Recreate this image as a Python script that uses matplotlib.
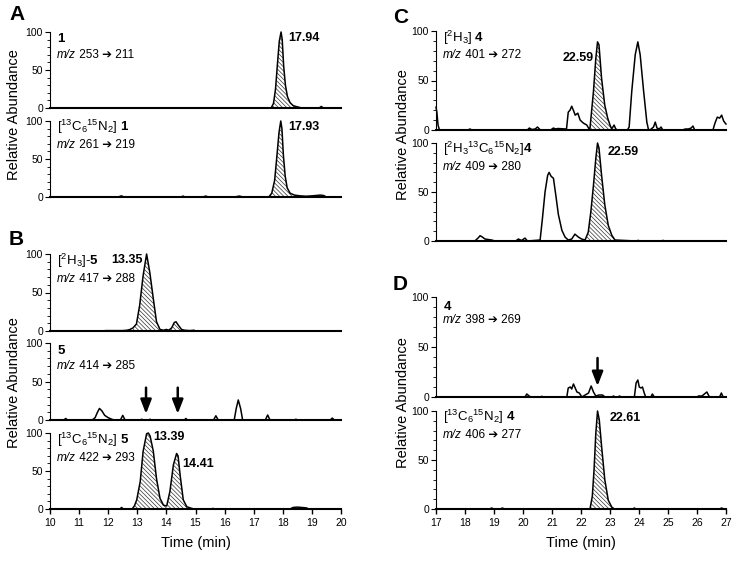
import numpy as np
import matplotlib
matplotlib.use('Agg')
import matplotlib.pyplot as plt
from matplotlib.ticker import MultipleLocator

plt.rcParams['font.family'] = ['Liberation Sans', 'DejaVu Sans']
plt.rcParams['mathtext.fontset'] = 'custom'
plt.rcParams['mathtext.rm'] = 'Liberation Sans'
plt.rcParams['mathtext.it'] = 'Liberation Sans:italic'
plt.rcParams['mathtext.bf'] = 'Liberation Sans:bold'
plt.rcParams['hatch.linewidth'] = 0.5

# ---- data (time in min, relative abundance) ----
# A: compound 1
a_top_t = [10.0, 17.60, 17.68, 17.75, 17.82, 17.88, 17.94, 17.98, 18.03, 18.09, 18.16, 18.25, 18.36,
           18.50, 18.65, 19.25, 19.32, 19.40, 20.0]
a_top_y = [0, 0, 6, 25, 60, 88, 100, 90, 55, 30, 15, 7, 3, 1.5, 0, 0, 2, 0, 0]
a_bot_t = [10.0, 12.35, 12.45, 12.55, 14.50, 14.57, 14.64, 15.25, 15.35, 15.45, 16.35, 16.50, 16.65,
           17.52, 17.62, 17.72, 17.80, 17.87, 17.93, 17.97, 18.02, 18.08, 18.15, 18.25, 18.40, 18.60,
           18.80, 19.00, 19.15, 19.28, 19.40, 19.50, 20.0]
a_bot_y = [0, 0, 1.5, 0, 0, 1.2, 0, 0, 1.2, 0, 0, 1.2, 0, 0, 5, 22, 55, 85, 100, 90, 55, 28, 12, 5,
           2.5, 1.5, 1, 1.5, 2, 2.5, 2, 0, 0]

# B: compound 5
b_top_t = [10.0, 11.85, 11.90, 12.50, 12.65, 12.75, 12.85, 12.97, 13.08, 13.20, 13.32, 13.43, 13.55,
           13.66, 13.78, 13.90, 14.00, 14.08, 14.18, 14.27, 14.33, 14.42, 14.52, 14.62, 14.80, 14.95,
           15.0, 20.0]
b_top_y = [0, 0, 0.5, 0.5, 1, 2, 4, 9, 33, 72, 100, 76, 42, 12, 2, 1, 2, 1, 4, 11, 12, 7, 2, 1, 0.5,
           1, 0, 0]
b_mid_t = [10.0, 10.48, 10.54, 10.60, 11.45, 11.55, 11.63, 11.70, 11.78, 11.88, 12.00, 12.12, 12.20,
           12.42, 12.50, 12.58, 13.10, 13.15, 13.20, 13.40, 13.44, 13.48, 14.62, 14.67, 14.72, 15.62,
           15.70, 15.78, 16.33, 16.40, 16.47, 16.55, 16.62, 17.40, 17.48, 17.56, 18.40, 18.45, 18.50,
           19.63, 19.70, 19.77, 20.0]
b_mid_y = [0, 0, 2, 0, 0, 3, 10, 15, 12, 6, 3, 1, 0, 0, 6, 0, 0, 1, 0, 0, 1, 0, 0, 2, 0, 0, 5.5, 0,
           0, 15, 26, 15, 0, 0, 6.5, 0, 0, 1, 0, 0, 2.5, 0, 0]
b_bot_t = [10.0, 12.40, 12.46, 12.52, 12.82, 12.90, 12.98, 13.10, 13.20, 13.32, 13.38, 13.44, 13.55,
           13.66, 13.78, 13.90, 14.01, 14.12, 14.24, 14.35, 14.40, 14.47, 14.58, 14.70, 14.85, 14.95,
           15.55, 15.60, 15.65, 18.25, 18.35, 18.50, 18.65, 18.80, 18.90, 20.0]
b_bot_y = [0, 0, 2, 0, 0, 4, 12, 36, 76, 99, 100, 96, 76, 40, 14, 5, 4, 23, 58, 73, 70, 45, 12, 3, 1,
           0, 0, 0.8, 0, 0, 2, 2.5, 2, 1.5, 0, 0]
b_arrows = [13.30, 14.39]

# C: compound 4 (deuterated standards)
c_top_t = [17.0, 17.03, 17.07, 17.12, 18.10, 18.17, 18.24, 20.15, 20.22, 20.30, 20.42, 20.50, 20.58,
           20.65, 20.95, 21.05, 21.12, 21.20, 21.50, 21.56, 21.62, 21.68, 21.75, 21.80, 21.89, 21.97,
           22.08, 22.20, 22.28, 22.31, 22.43, 22.51, 22.57, 22.62, 22.71, 22.82, 22.92, 23.00, 23.06,
           23.14, 23.20, 23.26, 23.60, 23.66, 23.75, 23.87, 23.96, 24.04, 24.16, 24.27, 24.33, 24.40,
           24.50, 24.56, 24.62, 24.70, 24.76, 24.82, 25.50, 25.60, 25.70, 25.80, 25.86, 25.92, 26.55,
           26.62, 26.70, 26.78, 26.85, 26.92, 27.0]
c_top_y = [23, 18, 5, 0, 0, 1, 0, 0, 2, 0.5, 1, 3, 0.5, 0, 0, 2, 1, 1.5, 1, 18, 20, 24, 19, 15, 17,
           10, 7, 5, 1, 2, 39, 72, 89, 86, 52, 25, 12, 5, 1, 5, 1, 0, 0, 3, 39, 76, 89, 76, 39, 8, 0,
           0.5, 3, 8, 2, 1, 3, 0, 0, 1, 1, 2, 4, 0, 0, 7, 13, 12, 15, 9, 6]
c_bot_t = [17.0, 18.34, 18.45, 18.52, 18.60, 18.69, 18.92, 19.03, 19.75, 19.84, 19.95, 20.07, 20.15,
           20.59, 20.67, 20.76, 20.85, 20.90, 20.97, 21.05, 21.13, 21.22, 21.34, 21.45, 21.56, 21.68,
           21.79, 21.91, 22.02, 22.14, 22.25, 22.34, 22.43, 22.51, 22.57, 22.62, 22.71, 22.82, 22.94,
           23.06, 23.17, 23.90, 23.97, 24.04, 24.76, 24.83, 24.90, 27.0]
c_bot_y = [0, 0, 3, 5.4, 4, 2, 1, 0, 0, 2, 0.5, 3, 0, 1, 23, 50, 67, 70, 66, 64, 47, 27, 11, 4, 1, 2,
           7, 4, 2, 1, 9, 30, 57, 84, 100, 95, 67, 37, 16, 6, 1, 0, 0.6, 0, 0, 0.6, 0, 0]

# D: compound 4 (native) and its 13C/15N standard
d_top_t = [17.0, 20.07, 20.13, 20.21, 20.27, 20.60, 20.65, 20.70, 21.51, 21.56, 21.63, 21.68, 21.74,
           21.80, 21.86, 21.94, 22.03, 22.26, 22.35, 22.43, 22.51, 22.62, 22.74, 22.83, 23.07, 23.12,
           23.17, 23.28, 23.33, 23.38, 23.84, 23.90, 23.96, 24.01, 24.07, 24.12, 24.18, 24.23, 24.41,
           24.46, 24.53, 26.00, 26.05, 26.17, 26.34, 26.43, 26.78, 26.84, 26.90, 27.0]
d_top_y = [0, 0, 3, 1, 0, 0, 0.7, 0, 0, 9, 10, 8, 13, 9, 5, 4, 0, 4, 11, 5, 1, 2, 2, 0, 0, 1, 0, 0,
           1, 0, 0, 14, 17, 10, 9, 10, 4, 0, 0, 3, 0, 0, 1, 1, 5, 0, 0, 4, 0, 0]
d_bot_t = [17.0, 18.85, 18.92, 18.99, 19.22, 19.29, 19.36, 22.31, 22.39, 22.45, 22.51, 22.57, 22.63,
           22.71, 22.82, 22.94, 23.06, 23.15, 23.78, 23.84, 23.90, 26.78, 26.85, 26.92, 27.0]
d_bot_y = [0, 0, 1, 0, 0, 1, 0, 0, 13, 40, 77, 100, 91, 64, 30, 9, 2, 0, 0, 1, 0, 0, 1, 0, 0]
d_arrows = [22.57]

W, H = 741, 561
fig = plt.figure(figsize=(W / 100, H / 100), dpi=100)


def add_ax(left, right, top, bottom, xlim, xlabels=False):
    # axes placed from pixel edges of the reference
    ax = fig.add_axes([left / W, 1 - bottom / H, (right - left) / W, (bottom - top) / H])
    ax.set_xlim(*xlim)
    ax.set_ylim(0, 100)
    for s in ['top', 'right']:
        ax.spines[s].set_visible(False)
    ax.spines['left'].set_linewidth(0.8)
    ax.spines['bottom'].set_linewidth(1.5)
    ax.set_yticks([0, 50, 100])
    ax.yaxis.set_minor_locator(MultipleLocator(10))
    ax.tick_params(axis='y', which='major', length=3.5, width=0.8, labelsize=7.5, pad=1.5)
    ax.tick_params(axis='y', which='minor', length=2, width=0.6)
    if xlabels:
        ax.set_xticks(np.arange(xlim[0], xlim[1] + 1, 1))
        ax.tick_params(axis='x', length=3.5, width=1.0, labelsize=7.5, pad=3)
        ax.set_xlabel('Time (min)', fontsize=10.5, labelpad=6)
    else:
        ax.set_xticks([])
    return ax


def trace(ax, t, y, hatch_range=None):
    t = np.array(t)
    y = np.array(y)
    if hatch_range is not None:
        m = (t >= hatch_range[0]) & (t <= hatch_range[1])
        ax.fill_between(t[m], 0, y[m], facecolor='white', edgecolor='#333333',
                        hatch='\\' * 8, linewidth=0)
    ax.plot(t, y, color='black', lw=1.1, clip_on=False)


def names(ax, x, name, mz, yname, ymz):
    ax.text(x, yname, name, fontsize=9.5, va='center', ha='left')
    # "m/z" in italic, then the transition as plain text (so the arrow glyph can fall back)
    t = ax.text(x, ymz, 'm/z', fontsize=8.5, style='italic', va='center', ha='left')
    ax.annotate(' ' + mz[0] + ' ➔ ' + mz[1], xy=(1, 0.5), xycoords=t, fontsize=8.5,
                va='center', ha='left')


def arrow(ax, x, y0, y1):
    ax.annotate('', xy=(x, y1), xytext=(x, y0),
                arrowprops=dict(arrowstyle='-|>,head_width=0.33,head_length=0.85', lw=1.8,
                                color='black', shrinkA=0, shrinkB=0))


BOLD = dict(fontsize=9, fontweight='bold', va='center')

# Panel A
ax = add_ax(50, 341, 32, 108, (10, 20))
trace(ax, a_top_t, a_top_y, (17.60, 18.65))
names(ax, 10.25, r'$\mathbf{1}$', ('253', '211'), 92, 70)
ax.text(18.2, 92, '17.94', ha='left', **BOLD)
ax = add_ax(50, 341, 121, 197, (10, 20))
trace(ax, a_bot_t, a_bot_y, (17.52, 18.45))
names(ax, 10.25, r'[${}^{13}\mathrm{C}_{6}{}^{15}\mathrm{N}_{2}$] $\mathbf{1}$', ('261', '219'), 92, 68)
ax.text(18.2, 92, '17.93', ha='left', **BOLD)

# Panel B
ax = add_ax(50, 341, 254, 331, (10, 20))
trace(ax, b_top_t, b_top_y, (12.65, 14.62))
names(ax, 10.25, r'[${}^{2}\mathrm{H}_{3}$]-$\mathbf{5}$', ('417', '288'), 91, 68)
ax.text(13.2, 92, '13.35', ha='right', **BOLD)
ax = add_ax(50, 341, 343, 420, (10, 20))
trace(ax, b_mid_t, b_mid_y)
names(ax, 10.25, r'$\mathbf{5}$', ('414', '285'), 90, 70)
for x in b_arrows:
    arrow(ax, x, 42, 8)
ax = add_ax(50, 341, 433, 509, (10, 20), xlabels=True)
trace(ax, b_bot_t, b_bot_y, (12.82, 14.95))
names(ax, 10.25, r'[${}^{13}\mathrm{C}_{6}{}^{15}\mathrm{N}_{2}$] $\mathbf{5}$', ('422', '293'), 91, 67)
ax.text(13.55, 95, '13.39', ha='left', **BOLD)
ax.text(14.55, 59, '14.41', ha='left', **BOLD)

# Panel C
ax = add_ax(436, 726, 31, 130, (17, 27))
trace(ax, c_top_t, c_top_y, (22.28, 23.06))
names(ax, 17.25, r'[${}^{2}\mathrm{H}_{3}$] $\mathbf{4}$', ('401', '272'), 93, 76)
ax.text(22.43, 73, '22.59', ha='right', **BOLD)
ax = add_ax(436, 726, 143, 241, (17, 27))
trace(ax, c_bot_t, c_bot_y, (22.14, 23.17))
names(ax, 17.25, r'[${}^{2}\mathrm{H}_{3}{}^{13}\mathrm{C}_{6}{}^{15}\mathrm{N}_{2}$]$\mathbf{4}$',
      ('409', '280'), 94, 76)
ax.text(22.92, 91, '22.59', ha='left', **BOLD)

# Panel D
ax = add_ax(436, 726, 297, 397, (17, 27))
trace(ax, d_top_t, d_top_y)
names(ax, 17.25, r'$\mathbf{4}$', ('398', '269'), 91, 77)
for x in d_arrows:
    arrow(ax, x, 39, 11)
ax = add_ax(436, 726, 411, 509, (17, 27), xlabels=True)
trace(ax, d_bot_t, d_bot_y, (22.31, 23.15))
names(ax, 17.25, r'[${}^{13}\mathrm{C}_{6}{}^{15}\mathrm{N}_{2}$] $\mathbf{4}$', ('406', '277'), 94, 76)
ax.text(23.0, 93, '22.61', ha='left', **BOLD)

# shared y labels and panel letters
for x, y in [(14, 115), (14, 383), (403, 135), (403, 403)]:
    fig.text(x / W, 1 - y / H, 'Relative Abundance', rotation=90, fontsize=10.5, ha='center', va='center')
for x, y, s in [(9, 5, 'A'), (9, 230, 'B'), (393, 8, 'C'), (393, 275, 'D')]:
    fig.text(x / W, 1 - y / H, s, fontsize=15, fontweight='bold', ha='left', va='top')

fig.savefig('out.png', dpi=100)
